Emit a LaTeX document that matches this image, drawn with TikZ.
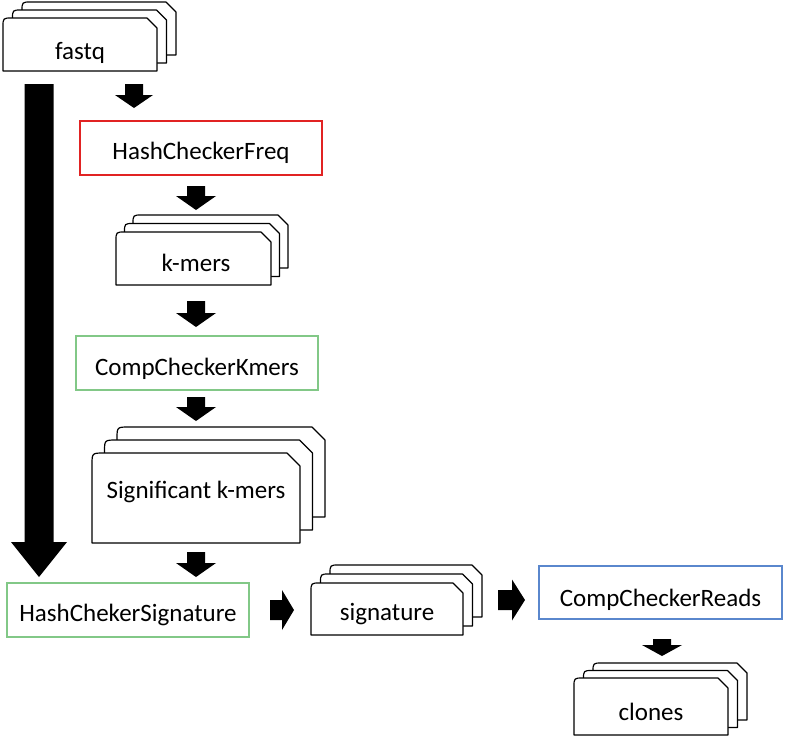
\documentclass[tikz,border=0pt]{standalone}
\usepackage{fontspec}
\setmainfont{Carlito}
\definecolor{boxred}{RGB}{225,35,35}
\definecolor{boxgreen}{RGB}{130,200,135}
\definecolor{boxblue}{RGB}{90,135,205}
\def\cardr{9}
\def\cardc{10}
\newcommand\card[4]{%
  \filldraw[cardline] ({#1},{#4}) -- ({#1},{#2+\cardr}) .. controls ({#1},{#2}) .. ({#1+\cardr},{#2})
    -- ({#3-\cardc},{#2}) -- ({#3},{#2+\cardc}) -- ({#3},{#4}) -- cycle;}
\newcommand\stack[8]{%
  \card{#2+2*#6}{#3-2*#7}{#4+2*#6}{#5-2*#7}
  \card{#2+#6}{#3-#7}{#4+#6}{#5-#7}
  \card{#2}{#3}{#4}{#5}
  \coordinate (#1) at ({(#2+#4)/2},{(#3+#5)/2});}
\newcommand\darrow[7]{% name cx ytop ytip sw hw hl
  \fill[black] ({#2-#5},{#3}) -- ({#2+#5},{#3}) -- ({#2+#5},{#4-#7}) -- ({#2+#6},{#4-#7})
    -- ({#2},{#4}) -- ({#2-#6},{#4-#7}) -- ({#2-#5},{#4-#7}) -- cycle;
  \coordinate (#1) at ({#2},{#4});}
\newcommand\rarrow[7]{% name cy xstart xtip sw hw hl
  \fill[black] ({#3},{#2-#5}) -- ({#3},{#2+#5}) -- ({#4-#7},{#2+#5}) -- ({#4-#7},{#2+#6})
    -- ({#4},{#2}) -- ({#4-#7},{#2-#6}) -- ({#4-#7},{#2-#5}) -- cycle;
  \coordinate (#1) at ({#4},{#2});}
\begin{document}
\begin{tikzpicture}[x=1pt,y=-1pt,
  cardline/.style={draw=black,fill=white,line width=1.2pt,line join=round},
  lbl/.style={font=\fontsize{25}{29}\selectfont,inner sep=0pt,text height=17pt,text depth=0pt},
  procbox/.style={minimum width=242pt,minimum height=54pt,fill=white,inner sep=0pt}]
\useasboundingbox (0,0) rectangle (787,740);
% fastq
\stack{fastqcard}{3}{18}{157}{71}{9.5}{8}{}
\node[lbl] (fastq) at (80,50.5) {fastq};
% big arrow
\darrow{big}{39}{84}{577}{14.5}{28}{35}
% HashCheckerFreq
\darrow{a1}{134}{84}{108}{9}{19}{13}
\node[procbox,draw=boxred,line width=2pt] (hcf) at (201,148) {};
\node[lbl] (hcft) at (201,150.5) {HashCheckerFreq};
\darrow{a2}{196}{186}{210}{9}{20}{14}
% k-mers
\stack{kmerscard}{116}{232}{271}{285}{8.5}{8.5}{}
\node[lbl] (kmers) at (196,263) {k-mers};
\darrow{a3}{196}{301}{327}{9}{20}{14}
\node[procbox,draw=boxgreen,line width=1.5pt] (cck) at (197,363) {};
\node[lbl] (cckt) at (197,366.5) {CompCheckerKmers};
\darrow{a4}{196}{397}{421}{9}{20}{14}
% significant k-mers
\def\cardr{12}\def\cardc{13}
\stack{sigkcard}{92}{453}{300}{543}{12.5}{13}{}
\node[lbl] (sigk) at (196,490) {Significant k-mers};
\def\cardr{9}\def\cardc{10}
\darrow{a5}{196}{552}{577}{9}{20}{14}
\node[procbox,draw=boxgreen,line width=1.5pt] (hcs) at (128,610) {};
\node[lbl] (hcst) at (128,613) {HashChekerSignature};
\rarrow{r1}{610}{270}{294}{10}{20}{12}
\stack{sigcard}{311}{583}{463}{635}{9.5}{9}{}
\node[lbl] (sig) at (387,612) {signature};
\rarrow{r2}{600}{498}{525}{10}{20.5}{13}
\node[procbox,draw=boxblue,line width=1.5pt,minimum width=243pt,minimum height=53pt] (ccr) at (660.5,592.5) {};
\node[lbl] (ccrt) at (660.5,597.5) {CompCheckerReads};
\darrow{a6}{662}{639}{656}{9}{20}{11}
\stack{clonescard}{574}{678}{728}{735}{9.5}{7.5}{}
\node[lbl] (clones) at (651,711.5) {clones};
\end{tikzpicture}
\end{document}
